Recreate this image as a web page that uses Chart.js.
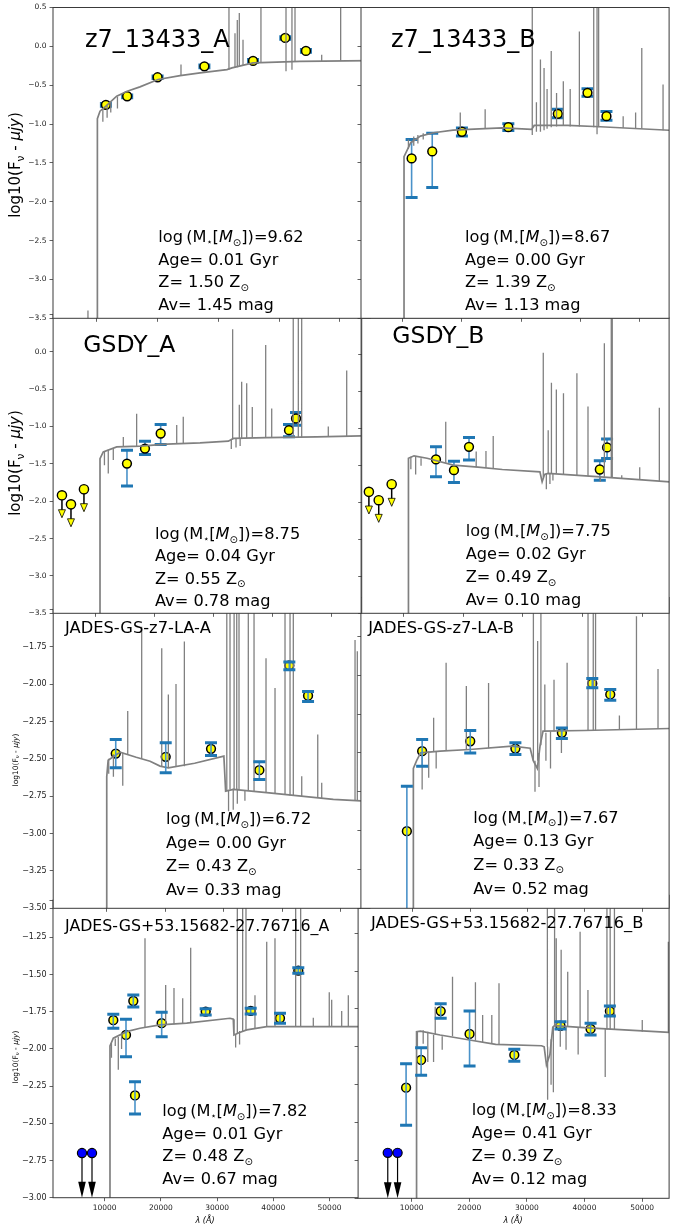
<!DOCTYPE html>
<html>
<head>
<meta charset="utf-8">
<script src="https://cdn.jsdelivr.net/npm/chart.js@4.4.0/dist/chart.umd.min.js"></script>
<style>
  html, body { margin: 0; padding: 0; background: #fff; overflow: hidden; }
  #wrap { position: relative; width: 675px; height: 1229px; }
  #wrap canvas { position: absolute; left: 0; top: 0; }
</style>
</head>
<body>
<div id="wrap"></div>
<script>
// ---------- shared ticks ----------
const xTickValues = [10000, 20000, 30000, 40000, 50000];
const yTicksHalf = [0.5, 0.0, -0.5, -1.0, -1.5, -2.0, -2.5, -3.0, -3.5];
const yTicksQuarterA = [-1.5, -1.75, -2.0, -2.25, -2.5, -2.75, -3.0, -3.25, -3.5];
const yTicksQuarterB = [-1.0, -1.25, -1.5, -1.75, -2.0, -2.25, -2.5, -2.75, -3.0];

// ---------- panel 1: z7_13433_A ----------
const p1Name = 'z7_13433_A';
const p1Info = ['9.62', '0.01', '1.50', '1.45'];
const p1ContWave = [10100, 10100, 10530, 11500, 13270, 15000, 17100, 20070, 23700, 27000, 31400, 32240, 35700, 43400, 55000];
const p1ContFlux = [-3.6, -0.93, -0.834, -0.77, -0.642, -0.578, -0.521, -0.427, -0.376, -0.341, -0.299, -0.277, -0.213, -0.193, -0.185];
const p1LineWave = [8550, 11000, 11700, 12300, 13400, 23850, 31740, 32730, 33110, 33440, 34050, 37000, 41120, 42100, 42600, 46990, 50110];
const p1LineLow  = [-3.6, -0.97, -0.92, -0.85, -0.8, -0.37, -0.30, -0.28, -0.27, -0.26, -0.25, -0.21, -0.32, -0.30, -0.20, -0.19, -0.19];
const p1LineHigh = [-3.4, -0.82, -0.76, -0.72, -0.65, -0.235, 0.6, 0.17, 0.34, 0.43, 0.086, 0.6, 0.6, 0.6, 0.6, -0.107, 0.6];
const p1PhotWave = [11500, 15000, 20000, 27700, 35700, 41000, 44400];
const p1PhotFlux = [-0.752, -0.642, -0.398, -0.257, -0.188, 0.108, -0.059];
const p1ErrLo = [-0.77, -0.66, -0.415, -0.275, -0.205, 0.09, -0.077];
const p1ErrHi = [-0.735, -0.625, -0.38, -0.24, -0.17, 0.125, -0.04];

// ---------- panel 2: z7_13433_B ----------
const p2Name = 'z7_13433_B';
const p2Info = ['8.67', '0.00', '1.39', '1.13'];
const p2ContWave = [10260, 10260, 11400, 13030, 15230, 18540, 22960, 26820, 31790, 32230, 37860, 43380, 55000];
const p2ContFlux = [-3.6, -1.42, -1.24, -1.155, -1.112, -1.078, -1.061, -1.048, -1.069, -1.018, -1.018, -1.035, -1.08];
const p2LineWave = [11000, 11900, 12600, 13500, 19750, 23950, 31900, 32600, 33280, 33890, 34400, 35100, 36000, 37140, 38300, 39850, 42270, 42830, 43100, 47240, 49340, 50380, 53970];
const p2LineLow  = [-1.32, -1.28, -1.25, -1.2, -1.08, -1.06, -1.14, -1.1, -1.1, -1.08, -1.06, -1.04, -1.03, -1.02, -1.03, -1.03, -1.04, -1.13, -1.04, -1.05, -1.06, -1.06, -1.08];
const p2LineHigh = [-1.2, -1.16, -1.14, -1.12, -0.85, -0.81, 0.6, -0.72, -0.17, -0.28, -0.55, -0.06, -0.6, -0.45, -0.55, 0.19, 0.6, 0.6, 0.6, -0.9, -0.85, -0.02, -0.49];
const p2PhotWave = [11540, 15020, 20030, 27860, 36210, 41220, 44420];
const p2PhotFlux = [-1.442, -1.352, -1.099, -1.04, -0.868, -0.598, -0.899];
const p2ErrLo = [-1.946, -1.818, -1.155, -1.082, -0.92, -0.642, -0.95];
const p2ErrHi = [-1.198, -1.12, -1.05, -0.997, -0.81, -0.547, -0.84];

// ---------- panel 3: GSDY_A ----------
const p3Name = 'GSDY_A';
const p3Info = ['8.75', '0.04', '0.55', '0.78'];
const p3ContWave = [10750, 10750, 11300, 13580, 17530, 22050, 27700, 32500, 33350, 39000, 47470, 55000];
const p3ContFlux = [-3.6, -1.43, -1.34, -1.273, -1.264, -1.237, -1.22, -1.197, -1.16, -1.148, -1.139, -1.126];
const p3LineWave = [11500, 12150, 13000, 14700, 16960, 23750, 24860, 33000, 33230, 33800, 34360, 34500, 34760, 35610, 36560, 38830, 39850, 43500, 44360, 44930, 49440, 52560];
const p3LineLow  = [-1.52, -1.63, -1.45, -1.27, -1.265, -1.235, -1.23, -1.3, -1.17, -1.28, -1.16, -1.26, -1.16, -1.155, -1.15, -1.148, -1.148, -1.145, -1.145, -1.145, -1.137, -1.13];
const p3LineHigh = [-1.33, -1.31, -1.29, -1.14, -0.83, -0.98, -0.87, -1.18, 0.3, -1.16, -0.71, -1.16, -0.40, -0.42, -0.74, 0.09, -0.76, 0.6, 0.6, 0.6, -1.0, -0.25];
const p3PhotWave = [15320, 18370, 21030, 42780, 43970];
const p3PhotFlux = [-1.496, -1.295, -1.094, -1.05, -0.893];
const p3ErrLo = [-1.796, -1.376, -1.241, -1.139, -0.983];
const p3ErrHi = [-1.318, -1.197, -0.973, -0.973, -0.812];
const p3LimWave = [4300, 5830, 8030];
const p3LimFlux = [-1.921, -2.042, -1.84];

// ---------- panel 4: GSDY_B ----------
const p4Name = 'GSDY_B';
const p4Info = ['7.75', '0.02', '0.49', '0.10'];
const p4ContWave = [10900, 10900, 11830, 14000, 18380, 22500, 26560, 32830, 33200, 33600, 34200, 42930, 54500];
const p4ContFlux = [-3.6, -1.40, -1.367, -1.40, -1.493, -1.52, -1.552, -1.584, -1.72, -1.62, -1.606, -1.652, -1.72];
const p4LineWave = [11300, 12100, 13000, 17120, 22200, 23830, 25040, 33390, 33900, 34210, 34500, 34750, 35000, 35570, 36760, 39000, 40850, 42900, 43580, 44730, 44900, 46480, 49480, 52750];
const p4LineLow  = [-1.55, -1.62, -1.5, -1.46, -1.52, -1.53, -1.54, -1.66, -1.82, -1.606, -1.75, -1.61, -1.7, -1.61, -1.62, -1.63, -1.64, -1.72, -1.652, -1.655, -1.655, -1.67, -1.69, -1.71];
const p4LineHigh = [-1.38, -1.38, -1.4, -0.906, -1.31, -1.30, -1.10, 0.03, -1.6, -1.02, -1.6, -0.377, -1.6, -0.467, -0.52, -0.25, -0.70, -1.65, 0.157, 0.6, 0.6, -1.63, -1.52, -0.716];
const p4PhotWave = [15490, 18490, 21000, 42820, 44030];
const p4PhotFlux = [-1.416, -1.561, -1.245, -1.552, -1.253];
const p4ErrLo = [-1.652, -1.728, -1.425, -1.697, -1.402];
const p4ErrHi = [-1.245, -1.439, -1.118, -1.435, -1.14];
const p4LimWave = [4300, 5940, 8100];
const p4LimFlux = [-1.855, -1.968, -1.751];

// ---------- panel 5: JADES-GS-z7-LA-A ----------
const p5Name = 'JADES-GS-z7-LA-A';
const p5Info = ['6.72', '0.00', '0.43', '0.33'];
const p5ContWave = [9960, 9960, 10200, 12230, 15000, 17370, 19080, 20500, 25000, 30000, 30300, 31620, 37330, 48720, 55000];
const p5ContFlux = [-3.6, -2.62, -2.51, -2.456, -2.49, -2.516, -2.549, -2.56, -2.53, -2.482, -2.716, -2.704, -2.726, -2.771, -2.785];
const p5LineWave = [10300, 11100, 12700, 13550, 15940, 19370, 20500, 21810, 23240, 30500, 30800, 31050, 31600, 31750, 32200, 32300, 32590, 33600, 34180, 35160, 37210, 38750, 40460, 41320, 41880, 43320, 46060, 46740, 52440, 52830];
const p5LineLow  = [-2.6, -2.62, -2.68, -2.47, -2.50, -2.55, -2.56, -2.555, -2.55, -2.71, -2.85, -2.704, -2.84, -2.705, -2.708, -2.8, -2.71, -2.78, -2.715, -2.72, -2.726, -2.73, -2.74, -2.745, -2.748, -2.755, -2.762, -2.763, -2.78, -2.78];
const p5LineHigh = [-2.5, -2.47, -2.46, -2.18, -1.617, -1.76, -2.07, -2.0, -1.716, -1.4, -2.71, -1.4, -2.7, -1.4, -1.4, -2.7, -1.4, -2.71, -1.4, -1.4, -1.827, -2.027, -1.4, -1.4, -1.4, -2.616, -2.338, -2.66, -1.705, -1.78];
const p5PhotWave = [11500, 20050, 27800, 36070, 41200, 44400];
const p5PhotFlux = [-2.465, -2.487, -2.433, -2.576, -1.876, -2.078];
const p5ErrLo = [-2.56, -2.593, -2.478, -2.638, -1.905, -2.116];
const p5ErrHi = [-2.371, -2.393, -2.393, -2.52, -1.853, -2.049];

// ---------- panel 6: JADES-GS-z7-LA-B ----------
const p6Name = 'JADES-GS-z7-LA-B';
const p6Info = ['7.67', '0.13', '0.33', '0.52'];
const p6ContWave = [10130, 10130, 10700, 11390, 14800, 19930, 27320, 30460, 31000, 31700, 32200, 32700, 39840, 54700];
const p6ContFlux = [-3.6, -2.6, -2.55, -2.50, -2.489, -2.478, -2.457, -2.47, -2.55, -2.6, -2.45, -2.36, -2.356, -2.343];
const p6LineWave = [11660, 12800, 13660, 14100, 15830, 19350, 23220, 31020, 31300, 31760, 32000, 32330, 33010, 33200, 34000, 34610, 35900, 36890, 40530, 41440, 41840, 45990, 48960, 52710];
const p6LineLow  = [-2.736, -2.66, -2.49, -2.6, -2.488, -2.478, -2.47, -2.55, -2.75, -2.55, -2.72, -2.45, -2.36, -2.55, -2.6, -2.36, -2.5, -2.358, -2.356, -2.355, -2.355, -2.35, -2.35, -2.345];
const p6LineHigh = [-2.5, -2.49, -2.274, -2.49, -1.92, -2.07, -2.05, -1.4, -2.55, -1.78, -2.5, -1.4, -2.06, -2.37, -2.36, -2.03, -2.36, -1.92, -1.4, -1.4, -1.4, -2.26, -1.62, -1.96];
const p6PhotWave = [9000, 11660, 20030, 27890, 35980, 41270, 44400];
const p6PhotFlux = [-3.004, -2.489, -2.425, -2.472, -2.371, -2.053, -2.124];
const p6ErrLo = [-3.7, -2.586, -2.5, -2.511, -2.408, -2.081, -2.161];
const p6ErrHi = [-2.715, -2.414, -2.356, -2.435, -2.339, -2.021, -2.092];

// ---------- panel 7: JADES-GS+53.15682-27.76716_A ----------
const p7Name = 'JADES-GS+53.15682-27.76716_A';
const p7Info = ['7.82', '0.01', '0.48', '0.67'];
const p7ContWave = [10940, 10940, 11530, 13900, 16280, 19840, 24590, 32300, 32880, 33000, 34000, 35270, 38830, 55500];
const p7ContFlux = [-3.1, -1.98, -1.928, -1.884, -1.861, -1.839, -1.827, -1.794, -1.80, -1.906, -1.89, -1.872, -1.85, -1.85];
const p7LineWave = [11200, 11880, 12420, 13000, 17170, 20850, 22330, 23880, 25300, 33300, 33600, 34000, 34550, 35140, 36740, 38830, 40300, 43980, 44870, 47120, 49960, 50390, 52170, 53350];
const p7LineLow  = [-2.06, -1.98, -2.14, -2.0, -1.855, -1.838, -1.835, -1.83, -1.825, -1.99, -1.9, -1.97, -1.885, -1.875, -1.86, -1.85, -1.85, -1.85, -1.85, -1.85, -1.85, -1.85, -1.85, -1.85];
const p7LineHigh = [-1.96, -1.93, -1.92, -1.9, -1.257, -1.57, -1.59, -1.66, -1.32, -1.9, -0.9, -1.88, -0.9, -0.9, -1.64, -1.28, -1.257, -0.9, -0.9, -1.79, -1.62, -1.67, -1.745, -1.64];
const p7PhotWave = [11530, 13790, 15090, 15390, 20140, 27970, 35980, 41190, 44450];
const p7PhotFlux = [-1.807, -1.906, -1.678, -2.313, -1.827, -1.749, -1.745, -1.794, -1.474];
const p7ErrLo = [-1.861, -2.052, -1.718, -2.437, -1.918, -1.772, -1.765, -1.827, -1.492];
const p7ErrHi = [-1.767, -1.80, -1.637, -2.22, -1.754, -1.731, -1.727, -1.76, -1.454];
const p7LimWave = [5960, 7740];
const p7LimFlux = [-2.70, -2.70];

// ---------- panel 8: JADES-GS+53.15682-27.76716_B ----------
const p8Name = 'JADES-GS+53.15682-27.76716_B';
const p8Info = ['8.33', '0.41', '0.39', '0.12'];
const p8ContWave = [10850, 10850, 11530, 14940, 20050, 24580, 32540, 33000, 33400, 34000, 34500, 34800, 39910, 54700];
const p8ContFlux = [-3.1, -1.90, -1.896, -1.922, -1.955, -1.984, -1.993, -2.0, -2.12, -2.05, -1.87, -1.861, -1.874, -1.905];
const p8LineWave = [11000, 12000, 12800, 13800, 14090, 15300, 17090, 21070, 22320, 23910, 25160, 33560, 33600, 34200, 34600, 34810, 35100, 35800, 35950, 36800, 37090, 38900, 39240, 40600, 43600, 43900, 44460, 45200, 50030, 54560];
const p8LineLow  = [-2.0, -1.98, -2.1, -2.1, -1.92, -2.02, -1.93, -1.96, -1.97, -1.98, -1.985, -2.0, -2.35, -2.25, -2.3, -1.86, -1.86, -2.0, -1.862, -2.02, -1.865, -2.05, -1.873, -1.877, -2.2, -1.885, -1.886, -1.888, -1.9, -1.905];
const p8LineHigh = [-1.9, -1.89, -1.9, -1.92, -1.735, -1.93, -1.537, -1.574, -1.79, -1.79, -1.58, -0.9, -2.0, -1.95, -1.87, -0.9, -1.284, -1.87, -1.36, -1.87, -1.504, -1.87, -1.24, -1.625, -1.88, -0.9, -0.9, -0.9, -1.823, -1.306];
const p8PhotWave = [9030, 11640, 15040, 20050, 27820, 35830, 41060, 44410];
const p8PhotFlux = [-2.27, -2.087, -1.764, -1.915, -2.054, -1.861, -1.882, -1.764];
const p8ErrLo = [-2.518, -2.188, -1.812, -2.127, -2.096, -1.882, -1.922, -1.797];
const p8ErrHi = [-2.112, -2.006, -1.716, -1.764, -2.016, -1.834, -1.845, -1.731];
const p8LimWave = [5850, 7550];
const p8LimFlux = [-2.70, -2.70];

// ---------- styling ----------
const FONT = '"DejaVu Sans"';
const SPEC = '#808080';
const BAR_LINE = '#4a92c9';
const BAR_CAP = '#1f77b4';
const limitDrop = 0.3; // length of upper-limit arrows in dex
Chart.defaults.font.family = 'DejaVu Sans';

// panel placement on the 675x1229 page (chart area edges in px)
const panels = [
  { name: p1Name, info: p1Info, cw: p1ContWave, cf: p1ContFlux, lw: p1LineWave, ll: p1LineLow, lh: p1LineHigh,
    pw: p1PhotWave, pf: p1PhotFlux, elo: p1ErrLo, ehi: p1ErrHi,
    L: 53, R: 370.4, T: 7, B: 318.3, xMin: 2800, xMax: 55000, yMin: -3.5, yMax: 0.5, yTicks: yTicksHalf, yDec: 1,
    showY: true, hideTop: false, tickSize: 7.5, title: { x: 85, y: 47, size: 24 },
    infoPos: { x: 158.3, y: 242, gap: 22.7 }, yTitle: { x: 15, y: 165, size: 15 } },
  { name: p2Name, info: p2Info, cw: p2ContWave, cf: p2ContFlux, lw: p2LineWave, ll: p2LineLow, lh: p2LineHigh,
    pw: p2PhotWave, pf: p2PhotFlux, elo: p2ErrLo, ehi: p2ErrHi,
    L: 361, R: 675, T: 7, B: 318.3, xMin: 3000, xMax: 54990, yMin: -3.5, yMax: 0.5, yTicks: yTicksHalf, yDec: 1,
    showY: false, title: { x: 391, y: 47, size: 24 }, infoPos: { x: 465, y: 242, gap: 22.7 } },
  { name: p3Name, info: p3Info, cw: p3ContWave, cf: p3ContFlux, lw: p3LineWave, ll: p3LineLow, lh: p3LineHigh,
    pw: p3PhotWave, pf: p3PhotFlux, elo: p3ErrLo, ehi: p3ErrHi, limw: p3LimWave, limf: p3LimFlux, limStyle: 'yellow',
    L: 53.1, R: 361.1, T: 314.4, B: 613.3, xMin: 2800, xMax: 55000, yMin: -3.5, yMax: 0.5, yTicks: yTicksHalf, yDec: 1,
    showY: true, hideTop: true, tickSize: 7.5, title: { x: 83.3, y: 352, size: 23.5 },
    infoPos: { x: 155, y: 539, gap: 22.4 }, yTitle: { x: 15, y: 463, size: 15 } },
  { name: p4Name, info: p4Info, cw: p4ContWave, cf: p4ContFlux, lw: p4LineWave, ll: p4LineLow, lh: p4LineHigh,
    pw: p4PhotWave, pf: p4PhotFlux, elo: p4ErrLo, ehi: p4ErrHi, limw: p4LimWave, limf: p4LimFlux, limStyle: 'yellow',
    L: 361.7, R: 675, T: 318, B: 613.3, xMin: 3100, xMax: 54380, yMin: -3.5, yMax: 0.5, yTicks: yTicksHalf, yDec: 1,
    showY: false, title: { x: 392.3, y: 343, size: 23.5 }, infoPos: { x: 465.7, y: 536, gap: 23.1 } },
  { name: p5Name, info: p5Info, cw: p5ContWave, cf: p5ContFlux, lw: p5LineWave, ll: p5LineLow, lh: p5LineHigh,
    pw: p5PhotWave, pf: p5PhotFlux, elo: p5ErrLo, ehi: p5ErrHi, barsOnTop: true,
    L: 53.2, R: 370, T: 609.3, B: 908.3, xMin: 800, xMax: 55000, yMin: -3.5, yMax: -1.5, yTicks: yTicksQuarterA, yDec: 2,
    showY: true, hideTop: true, tickSize: 8, title: { x: 65, y: 633, size: 16.3 },
    infoPos: { x: 166, y: 824, gap: 23.6 }, yTitle: { x: 15, y: 760, size: 7.5 } },
  { name: p6Name, info: p6Info, cw: p6ContWave, cf: p6ContFlux, lw: p6LineWave, ll: p6LineLow, lh: p6LineHigh,
    pw: p6PhotWave, pf: p6PhotFlux, elo: p6ErrLo, ehi: p6ErrHi, barsOnTop: true,
    L: 360.9, R: 675, T: 597.5, B: 908.3, xMin: 1000, xMax: 54640, yMin: -3.5, yMax: -1.5, yTicks: yTicksQuarterA, yDec: 2,
    showY: false, title: { x: 368.3, y: 633, size: 16.3 }, infoPos: { x: 473.3, y: 822.5, gap: 23.7 } },
  { name: p7Name, info: p7Info, cw: p7ContWave, cf: p7ContFlux, lw: p7LineWave, ll: p7LineLow, lh: p7LineHigh,
    pw: p7PhotWave, pf: p7PhotFlux, elo: p7ErrLo, ehi: p7ErrHi, limw: p7LimWave, limf: p7LimFlux, limStyle: 'blue', barsOnTop: true,
    L: 53, R: 360.4, T: 900.1, B: 1197.7, xMin: 800, xMax: 55500, yMin: -3.0, yMax: -1.0, yTicks: yTicksQuarterB, yDec: 2,
    showY: true, hideTop: true, tickSize: 8, showX: true, title: { x: 65, y: 930.5, size: 15.8 },
    infoPos: { x: 162.3, y: 1116, gap: 22.6 }, yTitle: { x: 15, y: 1057, size: 7.5 }, xTitle: { x: 205, y: 1223 } },
  { name: p8Name, info: p8Info, cw: p8ContWave, cf: p8ContFlux, lw: p8LineWave, ll: p8LineLow, lh: p8LineHigh,
    pw: p8PhotWave, pf: p8PhotFlux, elo: p8ErrLo, ehi: p8ErrHi, limw: p8LimWave, limf: p8LimFlux, limStyle: 'blue', barsOnTop: true,
    L: 358.1, R: 675, T: 895.3, B: 1198.3, xMin: 700, xMax: 54690, yMin: -3.0, yMax: -1.0, yTicks: yTicksQuarterB, yDec: 2,
    showY: false, showX: true, title: { x: 371, y: 928, size: 16.3 },
    infoPos: { x: 471.7, y: 1115, gap: 23.1 }, xTitle: { x: 513, y: 1223 } }
];

// draw a list of text runs (sub/superscripts, italics) starting at x (or centred)
function drawRuns(ctx, runs, x, y, size, centred) {
  const parts = runs.map(r => {
    const s = size * (r.s || 1);
    const f = (r.i ? 'italic ' : '') + s + 'px ' + FONT;
    ctx.font = f;
    return { f, w: ctx.measureText(r.t).width };
  });
  const total = parts.reduce((a, b) => a + b.w, 0);
  let cx = centred ? x - total / 2 : x;
  runs.forEach((r, k) => {
    ctx.font = parts[k].f;
    ctx.fillText(r.t, cx, y + (r.dy || 0) * size);
    cx += parts[k].w;
  });
}

function yTitleRuns() {
  return [{ t: 'log10(F' }, { t: '\u03bd', s: 0.7, dy: 0.22 }, { t: ' - ' }, { t: '\u03bcjy', i: true }, { t: ')' }];
}

function drawErrorBars(chart, p) {
  const ctx = chart.ctx, a = chart.chartArea, xs = chart.scales.x, ys = chart.scales.y;
  ctx.save();
  ctx.beginPath();
  ctx.rect(a.left, a.top, a.width, a.height);
  ctx.clip();
  p.pw.forEach((w, i) => {
    const px = xs.getPixelForValue(w);
    const lo = ys.getPixelForValue(p.elo[i]);
    const hi = ys.getPixelForValue(p.ehi[i]);
    ctx.strokeStyle = BAR_LINE;
    ctx.lineWidth = 1.6;
    ctx.beginPath(); ctx.moveTo(px, lo); ctx.lineTo(px, hi); ctx.stroke();
    ctx.strokeStyle = BAR_CAP;
    ctx.lineWidth = 3;
    ctx.beginPath();
    ctx.moveTo(px - 6, lo); ctx.lineTo(px + 6, lo);
    ctx.moveTo(px - 6, hi); ctx.lineTo(px + 6, hi);
    ctx.stroke();
  });
  ctx.restore();
}

function drawLimits(chart, p) {
  if (!p.limw) return;
  const ctx = chart.ctx, xs = chart.scales.x, ys = chart.scales.y;
  ctx.save();
  p.limw.forEach((w, i) => {
    const px = xs.getPixelForValue(w);
    const py = ys.getPixelForValue(p.limf[i]);
    const tip = ys.getPixelForValue(p.limf[i] - limitDrop);
    if (p.limStyle === 'yellow') {
      ctx.strokeStyle = '#000'; ctx.lineWidth = 1.5;
      ctx.beginPath(); ctx.moveTo(px, py); ctx.lineTo(px, tip - 7); ctx.stroke();
      ctx.beginPath(); ctx.moveTo(px - 3.5, tip - 8); ctx.lineTo(px + 3.5, tip - 8); ctx.lineTo(px, tip); ctx.closePath();
      ctx.fillStyle = '#ffff00'; ctx.fill(); ctx.lineWidth = 0.8; ctx.stroke();
      ctx.beginPath(); ctx.arc(px, py, 4.6, 0, Math.PI * 2);
      ctx.fillStyle = '#ffff00'; ctx.fill(); ctx.lineWidth = 1.4; ctx.stroke();
    } else {
      ctx.strokeStyle = '#000'; ctx.lineWidth = 1.2;
      ctx.beginPath(); ctx.moveTo(px, py); ctx.lineTo(px, tip - 14); ctx.stroke();
      ctx.beginPath(); ctx.moveTo(px - 3.8, tip - 16); ctx.lineTo(px + 3.8, tip - 16); ctx.lineTo(px, tip); ctx.closePath();
      ctx.fillStyle = '#000'; ctx.fill();
      ctx.beginPath(); ctx.arc(px, py, 4.6, 0, Math.PI * 2);
      ctx.fillStyle = '#0000ff'; ctx.fill(); ctx.lineWidth = 1.2; ctx.stroke();
    }
  });
  ctx.restore();
}

function drawTexts(chart, p) {
  const ctx = chart.ctx, a = chart.chartArea;
  ctx.save();
  // frame
  ctx.strokeStyle = '#3a3a3a';
  ctx.lineWidth = 1;
  ctx.strokeRect(a.left, a.top, a.width, a.height);
  ctx.fillStyle = '#000';
  ctx.textBaseline = 'alphabetic';
  ctx.textAlign = 'left';
  // panel name
  ctx.font = p.title.size + 'px ' + FONT;
  ctx.fillText(p.name, p.title.x, p.title.y);
  // fit parameters
  const s = 16.2, ip = p.infoPos;
  drawRuns(ctx, [{ t: 'log\u2009(M' }, { t: '\u22c6', s: 0.6, dy: 0.2 }, { t: '[' }, { t: 'M', i: true },
                 { t: '\u2299', s: 0.62, dy: 0.22 }, { t: '])=' + p.info[0] }], ip.x, ip.y, s);
  drawRuns(ctx, [{ t: 'Age= ' + p.info[1] + ' Gyr' }], ip.x, ip.y + ip.gap, s);
  drawRuns(ctx, [{ t: 'Z= ' + p.info[2] + ' Z' }, { t: '\u2299', s: 0.62, dy: 0.22 }], ip.x, ip.y + 2 * ip.gap, s);
  drawRuns(ctx, [{ t: 'Av= ' + p.info[3] + ' mag' }], ip.x, ip.y + 3 * ip.gap, s);
  // axis titles
  if (p.yTitle) {
    ctx.save();
    ctx.translate(p.yTitle.x, p.yTitle.y);
    ctx.rotate(-Math.PI / 2);
    drawRuns(ctx, yTitleRuns(), 0, p.yTitle.size * 0.36, p.yTitle.size, true);
    ctx.restore();
  }
  if (p.xTitle) {
    drawRuns(ctx, [{ t: '\u03bb (\u00c5)', i: true }], p.xTitle.x, p.xTitle.y, 8, true);
  }
  ctx.restore();
}

function makePanel(p) {
  const cv = document.createElement('canvas');
  cv.width = 675;
  cv.height = 1229;
  document.getElementById('wrap').appendChild(cv);

  const cont = p.cw.map((w, i) => ({ x: w, y: p.cf[i] }));
  const lines = [];
  p.lw.forEach((w, i) => {
    lines.push({ x: w, y: p.ll[i] }, { x: w, y: p.lh[i] }, { x: w, y: null });
  });
  const phot = p.pw.map((w, i) => ({ x: w, y: p.pf[i] }));

  const decor = {
    id: 'sedDecor',
    beforeDraw(chart) {
      const a = chart.chartArea;
      chart.ctx.save();
      chart.ctx.fillStyle = '#fff';
      chart.ctx.fillRect(a.left, a.top, a.width, a.height);
      chart.ctx.restore();
    },
    beforeDatasetDraw(chart, args) {
      if (args.index === 2 && !p.barsOnTop) drawErrorBars(chart, p);
    },
    afterDatasetsDraw(chart) {
      if (p.barsOnTop) drawErrorBars(chart, p);
      drawLimits(chart, p);
    },
    afterDraw(chart) { drawTexts(chart, p); }
  };

  const tickGrid = { display: true, drawOnChartArea: false, drawTicks: true, tickLength: 3.5, color: '#3a3a3a', lineWidth: 0.8 };
  // axis boxes fill the page margins so tick labels are not clipped
  const yAxisWidth = p.L - 1;
  const xAxisHeight = 1229 - p.B - 1;

  new Chart(cv, {
    type: 'line',
    data: {
      datasets: [
        { data: cont, borderColor: SPEC, borderWidth: 1.7, pointRadius: 0, tension: 0 },
        { data: lines, borderColor: SPEC, borderWidth: 1.3, pointRadius: 0, tension: 0, spanGaps: false },
        { data: phot, showLine: false, pointRadius: 4.4, pointBackgroundColor: '#ffff00',
          pointBorderColor: '#000', pointBorderWidth: 1.5 }
      ]
    },
    options: {
      responsive: false,
      animation: false,
      devicePixelRatio: 1,
      events: [],
      layout: { padding: { left: 1, right: 675 - p.R, top: p.T, bottom: 1 } },
      plugins: { legend: { display: false }, tooltip: { enabled: false } },
      scales: {
        x: {
          type: 'linear', min: p.xMin, max: p.xMax,
          afterFit: s => { s.height = xAxisHeight; },
          afterBuildTicks: s => { s.ticks = xTickValues.map(v => ({ value: v })); },
          grid: tickGrid, border: { display: false },
          ticks: { autoSkip: false, maxRotation: 0, padding: 2, color: '#222',
                   font: { family: 'DejaVu Sans', size: 7.5 },
                   callback: v => (p.showX ? String(v) : '') }
        },
        y: {
          type: 'linear', min: p.yMin, max: p.yMax,
          afterFit: s => { s.width = yAxisWidth; },
          afterBuildTicks: s => { s.ticks = p.yTicks.map(v => ({ value: v })); },
          grid: tickGrid, border: { display: false },
          ticks: { autoSkip: false, padding: 3, color: '#222',
                   font: { family: 'DejaVu Sans', size: p.tickSize || 7.5 },
                   callback: v => {
                     if (!p.showY) return '';
                     if (p.hideTop && Math.abs(v - p.yMax) < 1e-9) return '';
                     return v.toFixed(p.yDec).replace('-', '\u2212');
                   } }
        }
      }
    },
    plugins: [decor]
  });
}

// lower rows first so that upper panels overlap them, right column above left
[6, 7, 4, 5, 2, 3, 0, 1].forEach(i => makePanel(panels[i]));
</script>
</body>
</html>
